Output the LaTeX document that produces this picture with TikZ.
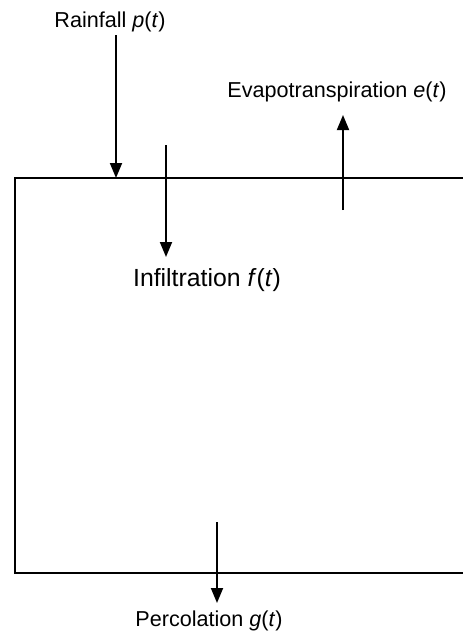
\documentclass[tikz,border=0pt]{standalone}
\usepackage{fontspec}
\setmainfont{Liberation Sans}
\usetikzlibrary{arrows.meta}

\begin{document}
\begin{tikzpicture}[x = 0.5pt, y = -0.5pt,
    flux/.style = {-{Triangle[length = 7.5pt, width = 6pt]}, line width = 0.9pt},
    fluxtext/.style = {inner sep = 0pt, font = \fontsize{10.8}{13}\selectfont},
    storetext/.style = {inner sep = 0pt, font = \fontsize{12.4}{15}\selectfont}]
  \useasboundingbox (0,0) rectangle (463,634);
  % the store, open to the right
  \draw[line width = 0.9pt] (463,178) -- (15,178) -- (15,573) -- (463,573);
  \node[fluxtext] (rain) at (110,22) {Rainfall \textit{p}(\textit{t})};
  \node[fluxtext] (evap) at (337,92) {Evapotranspiration \textit{e}(\textit{t})};
  \node[storetext] (infl) at (207,280) {Infiltration \textit{f}(\textit{t})};
  \node[fluxtext] (perc) at (209,621) {Percolation \textit{g}(\textit{t})};
  \coordinate (raintop) at (116,35);
  \coordinate (rainin) at (116,178);
  \coordinate (evapbase) at (343,210);
  \coordinate (evaptip) at (343,115);
  \coordinate (inflstart) at (166,145);
  \coordinate (infltip) at (166,257);
  \coordinate (percstart) at (217,522);
  \coordinate (perctip) at (217,603);
  \path[flux] (raintop) edge (rainin)
              (evapbase) edge (evaptip)
              (inflstart) edge (infltip)
              (percstart) edge (perctip);
\end{tikzpicture}
\end{document}
